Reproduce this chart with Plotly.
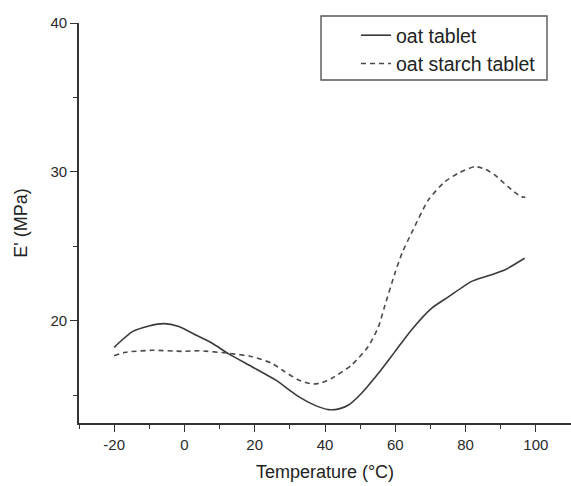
import plotly.graph_objects as go

# Data
oat_T = [-20, -14.8, -10.1, -5.8, -1.6, 3.2, 7.9, 12.6, 19.2, 25.9, 32.5, 37, 41, 44, 46.7, 50.4, 55.2,
         59.9, 64.6, 70.3, 75, 81.6, 86, 91.1, 96.8]
oat_E = [18.23, 19.28, 19.66, 19.82, 19.62, 19.06, 18.5, 17.79, 16.93, 16.04, 14.92, 14.35, 14.05, 14.1,
         14.36, 15.15, 16.49, 17.94, 19.4, 20.85, 21.6, 22.64, 23.0, 23.42, 24.21]

starch_T = [-20, -16.7, -9.1, -0.6, 4.1, 12.6, 19.2, 24.9, 28.5, 32.5, 36.3, 39, 41.9, 47.6, 52.3, 55.2,
            57, 59.9, 62, 64.6, 69.4, 74.1, 77.9, 82.6, 85.5, 88.3, 92.1, 95.8, 97]
starch_E = [17.67, 17.9, 18.03, 17.96, 18.0, 17.83, 17.6, 17.16, 16.6, 16.04, 15.77, 15.85, 16.15, 17.05,
            18.28, 19.6, 21.0, 23.2, 24.6, 25.89, 28.12, 29.35, 29.91, 30.36, 30.2, 29.8, 29.01, 28.34, 28.3]

series_names = ["oat tablet", "oat starch tablet"]
x_ticks = [-20, 0, 20, 40, 60, 80, 100]
x_tick_labels = ["-20", "0", "20", "40", "60", "80", "100"]
y_ticks = [20, 30, 40]
y_tick_labels = ["20", "30", "40"]

FONT = "Liberation Sans, Arial, sans-serif"
INK = "#333333"

fig = go.Figure()
fig.add_trace(go.Scatter(x=oat_T, y=oat_E, mode="lines", name=series_names[0],
                         line=dict(color="#3a3a3a", width=1.6, shape="spline", smoothing=0.6)))
fig.add_trace(go.Scatter(x=starch_T, y=starch_E, mode="lines", name=series_names[1],
                         line=dict(color="#4a4a4a", width=1.6, dash="5px,4px", shape="spline", smoothing=0.6)))

axis_common = dict(showline=True, linecolor=INK, linewidth=1.6, ticks="outside", ticklen=7,
                   tickwidth=1.4, tickcolor=INK, showgrid=False, zeroline=False,
                   tickfont=dict(family=FONT, size=15, color="#2a2a2a"))

fig.update_xaxes(range=[-30, 110], tickvals=x_ticks, ticktext=x_tick_labels,
                 title=dict(text="Temperature (°C)", font=dict(family=FONT, size=18, color="#222"), standoff=14),
                 minor=dict(tickvals=[-30, -10, 10, 30, 50, 70, 90, 110], ticklen=4, tickwidth=1.4,
                            tickcolor=INK, ticks="outside"),
                 **axis_common)
fig.update_yaxes(range=[13.15, 40], tickvals=y_ticks, ticktext=y_tick_labels,
                 title=dict(text="E' (MPa)", font=dict(family=FONT, size=18, color="#222"), standoff=18),
                 minor=dict(tickvals=[15, 25, 35], ticklen=4, tickwidth=1.4, tickcolor=INK, ticks="outside"),
                 **axis_common)

# legend box
fig.add_shape(type="rect", xref="paper", yref="paper", x0=0.4919, x1=0.9512, y0=0.8575, y1=1.0175,
              line=dict(color="#555555", width=1.4), fillcolor="rgba(0,0,0,0)")

fig.update_layout(
    width=571, height=486,
    margin=dict(l=79, r=0, t=23, b=63),
    paper_bgcolor="white", plot_bgcolor="white",
    showlegend=True,
    legend=dict(x=0.563, y=1.0175, xanchor="left", yanchor="top", bgcolor="rgba(0,0,0,0)",
                borderwidth=0, font=dict(family=FONT, size=19.5, color="#222"), tracegroupgap=0),
)

fig.write_html("out.html")
